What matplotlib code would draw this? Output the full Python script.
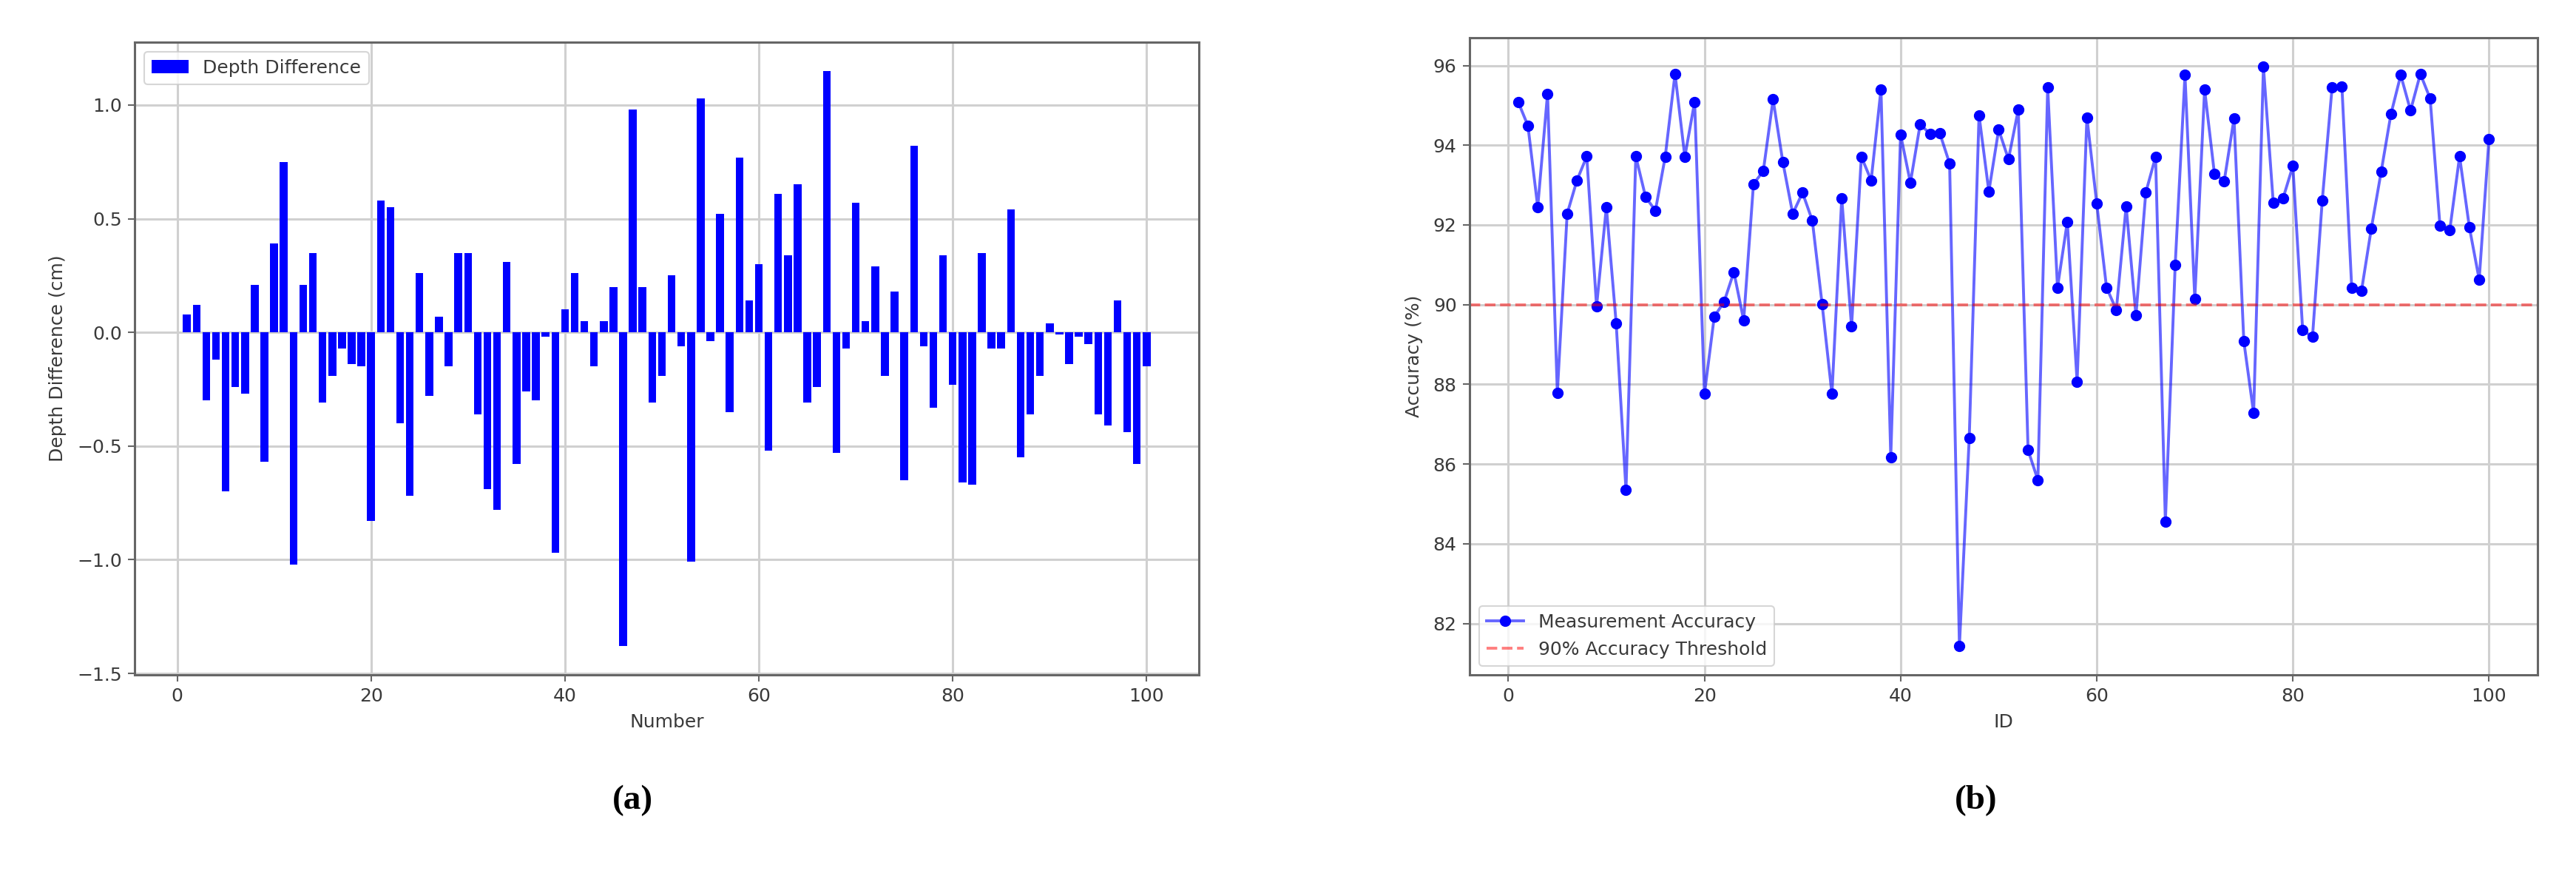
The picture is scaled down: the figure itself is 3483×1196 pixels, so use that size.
import matplotlib
matplotlib.use("Agg")
import matplotlib.pyplot as plt
import numpy as np

# ---------------- data ----------------
numbers = list(range(1, 101))
depth_diff = [0.08, 0.12, -0.30, -0.12, -0.70, -0.24, -0.27, 0.21, -0.57, 0.39,
              0.75, -1.02, 0.21, 0.35, -0.31, -0.19, -0.07, -0.14, -0.15, -0.83,
              0.58, 0.55, -0.40, -0.72, 0.26, -0.28, 0.07, -0.15, 0.35, 0.35,
              -0.36, -0.69, -0.78, 0.31, -0.58, -0.26, -0.30, -0.02, -0.97, 0.10,
              0.26, 0.05, -0.15, 0.05, 0.20, -1.38, 0.98, 0.20, -0.31, -0.19,
              0.25, -0.06, -1.01, 1.03, -0.04, 0.52, -0.35, 0.77, 0.14, 0.30,
              -0.52, 0.61, 0.34, 0.65, -0.31, -0.24, 1.15, -0.53, -0.07, 0.57,
              0.05, 0.29, -0.19, 0.18, -0.65, 0.82, -0.06, -0.33, 0.34, -0.23,
              -0.66, -0.67, 0.35, -0.07, -0.07, 0.54, -0.55, -0.36, -0.19, 0.04,
              -0.01, -0.14, -0.02, -0.05, -0.36, -0.41, 0.14, -0.44, -0.58, -0.15]

ids = list(range(1, 101))
accuracy = [95.09, 94.49, 92.45, 95.29, 87.79, 92.28, 93.12, 93.72, 89.96, 92.45,
            89.53, 85.35, 93.72, 92.70, 92.36, 93.71, 95.79, 93.71, 95.09, 87.76,
            89.70, 90.07, 90.82, 89.61, 93.03, 93.35, 95.15, 93.57, 92.28, 92.81,
            92.11, 90.01, 87.76, 92.67, 89.45, 93.71, 93.12, 95.40, 86.18, 94.27,
            93.06, 94.53, 94.28, 94.30, 93.54, 81.44, 86.66, 94.75, 92.84, 94.39,
            93.65, 94.89, 86.35, 85.60, 95.45, 90.43, 92.08, 88.07, 94.70, 92.54,
            90.43, 89.87, 92.47, 89.73, 92.81, 93.71, 84.56, 90.99, 95.76, 90.15,
            95.40, 93.29, 93.10, 94.67, 89.08, 87.28, 95.97, 92.56, 92.67, 93.48,
            89.36, 89.19, 92.62, 95.45, 95.48, 90.43, 90.35, 91.91, 93.33, 94.78,
            95.76, 94.87, 95.79, 95.17, 91.98, 91.87, 93.72, 91.94, 90.63, 94.16]
threshold = 90

panel_labels = ["(a)", "(b)"]

# ---------------- style ----------------
FS = 18
TXT = "#3a3a3a"
SPINE = "#666666"
GRID = "#d0d0d0"
plt.rcParams.update({
    "font.family": "DejaVu Sans",
    "font.size": FS,
    "text.color": TXT,
    "axes.labelcolor": TXT,
    "xtick.color": SPINE,
    "ytick.color": SPINE,
    "xtick.labelcolor": TXT,
    "ytick.labelcolor": TXT,
    "xtick.major.size": 6.5,
    "ytick.major.size": 6.5,
    "xtick.major.width": 1.5,
    "ytick.major.width": 1.5,
    "xtick.major.pad": 6,
    "ytick.major.pad": 6,
})

W, H = 3483, 1196
fig = plt.figure(figsize=(W / 100, H / 100), dpi=100)

def style_axes(ax):
    for s in ax.spines.values():
        s.set_color(SPINE)
        s.set_linewidth(2.2)
    ax.grid(True, color=GRID, linewidth=2.2)
    ax.set_axisbelow(True)

# left panel
ax1 = fig.add_axes([182 / W, 1 - 912 / H, 1439 / W, 855 / H])
ax1.bar(numbers, depth_diff, color="blue", width=0.8, label="Depth Difference")
ax1.set_xlabel("Number", fontsize=FS, labelpad=8)
ax1.set_ylabel("Depth Difference (cm)", fontsize=FS, labelpad=10)
style_axes(ax1)
leg1 = ax1.legend(loc="upper left", fontsize=FS, framealpha=0.8)
leg1.get_frame().set_linewidth(1.5)

# right panel
ax2 = fig.add_axes([1987 / W, 1 - 912 / H, 1444 / W, 861 / H])
ax2.plot(ids, accuracy, color=(0, 0, 1, 0.6), linewidth=2.8, marker="o",
         markersize=10, markerfacecolor="blue", markeredgecolor="blue",
         label="Measurement Accuracy")
ax2.axhline(threshold, color="red", alpha=0.5, linestyle="--", linewidth=2.8,
            label="90% Accuracy Threshold")
ax2.set_xlabel("ID", fontsize=FS, labelpad=8)
ax2.set_ylabel("Accuracy (%)", fontsize=FS, labelpad=10)
style_axes(ax2)
leg2 = ax2.legend(loc="lower left", fontsize=FS, framealpha=0.8)
leg2.get_frame().set_linewidth(1.5)

fig.text(855 / W, 1 - 1082 / H, panel_labels[0], ha="center", va="center",
         fontsize=34, fontweight="bold", family="Liberation Serif", color="black")
fig.text(2672 / W, 1 - 1082 / H, panel_labels[1], ha="center", va="center",
         fontsize=34, fontweight="bold", family="Liberation Serif", color="black")

fig.savefig("out.png", dpi=100, facecolor="white")
